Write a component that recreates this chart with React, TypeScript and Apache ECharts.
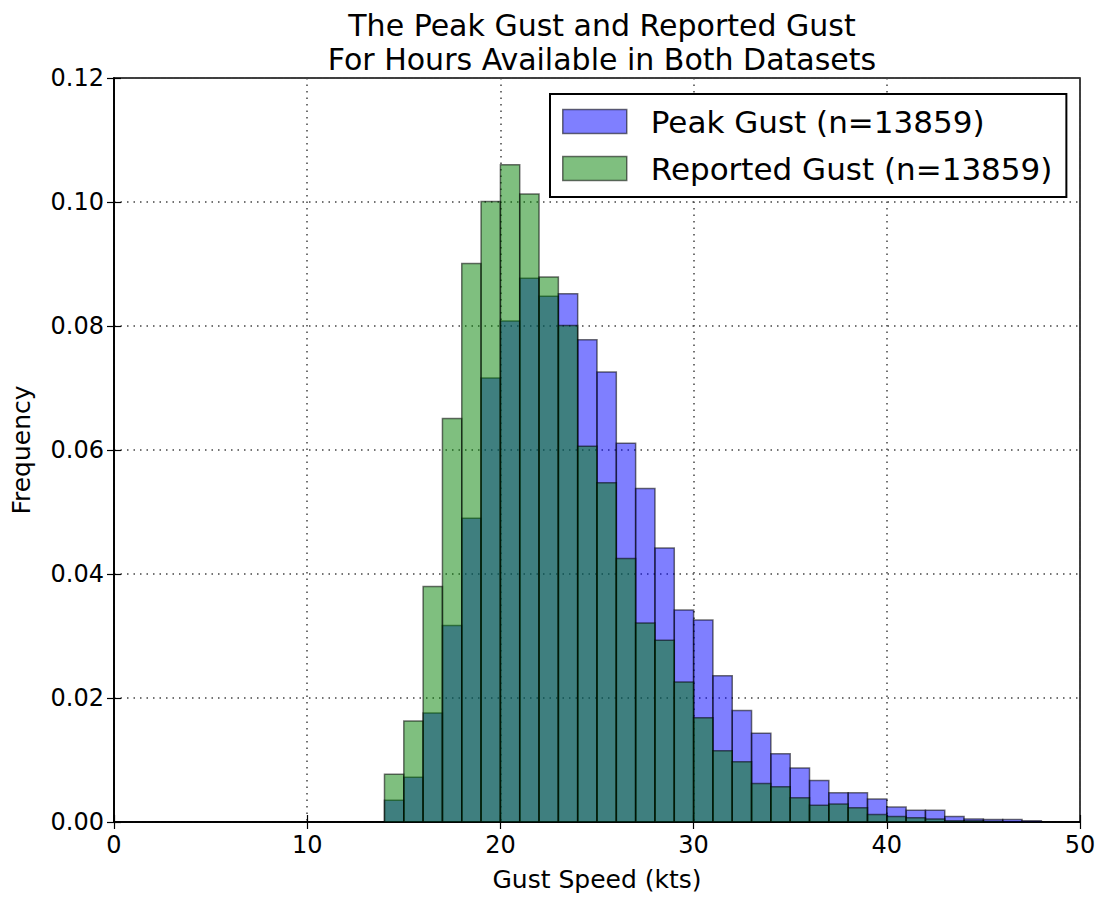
import React, { useEffect, useRef } from "react";
import * as echarts from "echarts";

const binStart = 2;
const peakGust = [
  0, 0, 0, 0, 0, 0, 0, 0, 0, 0, 0, 0,
  0.0035, 0.0072, 0.0176, 0.0317, 0.049, 0.0716, 0.0808, 0.0877, 0.0848, 0.0852,
  0.0778, 0.0726, 0.0611, 0.0538, 0.0442, 0.0342, 0.0326, 0.0236, 0.018, 0.0143,
  0.011, 0.0087, 0.0067, 0.0047, 0.0047, 0.0037, 0.0024, 0.0019, 0.0019, 0.0009,
  0.0005, 0.0004, 0.0004, 0.0002,
];
const reportedGust = [
  0, 0, 0, 0, 0, 0, 0, 0, 0, 0, 0, 0,
  0.0077, 0.0163, 0.038, 0.0651, 0.0901, 0.1001, 0.106, 0.1013, 0.0879, 0.0801,
  0.0606, 0.0547, 0.0425, 0.0321, 0.0293, 0.0226, 0.0168, 0.0115, 0.0097, 0.0062,
  0.0057, 0.0039, 0.0027, 0.0029, 0.0023, 0.0012, 0.0009, 0.0007, 0.0005, 0.0002,
  0.0002, 0.0001, 0, 0,
];
const xTicks = [0, 10, 20, 30, 40, 50];
const yTicks = [0, 0.02, 0.04, 0.06, 0.08, 0.1, 0.12];
const peakName = "Peak Gust (n=13859)";
const reportedName = "Reported Gust (n=13859)";
const titleText = "The Peak Gust and Reported Gust\nFor Hours Available in Both Datasets";

const FONT = "DejaVu Sans";
const BLUE = "rgba(0,0,255,0.5)";
const GREEN = "rgba(0,128,0,0.5)";
const EDGE = "rgba(0,0,0,0.55)";

function histSeries(name: string, values: number[], fill: string) {
  return {
    type: "custom",
    name,
    clip: true,
    itemStyle: { color: fill, borderColor: EDGE, borderWidth: 1.5 },
    encode: { x: 0, y: 1 },
    data: values.map((v, i) => [binStart + i, v]),
    renderItem: (params: any, api: any) => {
      const x0 = api.value(0);
      const y = api.value(1);
      const p0 = api.coord([x0, 0]);
      const p1 = api.coord([x0 + 1, y]);
      return {
        type: "rect",
        shape: { x: p0[0], y: p1[1], width: p1[0] - p0[0], height: p0[1] - p1[1] },
        style: { fill, stroke: EDGE, lineWidth: 1.5 },
      };
    },
  };
}

export default function App() {
  const ref = useRef<HTMLDivElement>(null);
  useEffect(() => {
    if (!ref.current) return;
    const chart = echarts.init(ref.current, undefined, { renderer: "svg" });
    const splitLine = { show: true, lineStyle: { type: [1.5, 5], color: "#444", width: 1.5 } };
    const axisLine = { show: true, lineStyle: { color: "#000", width: 1.5 } };
    const axisTick = { show: true, inside: true, length: 7, lineStyle: { color: "#000", width: 1.2 } };
    chart.setOption({
      animation: false,
      backgroundColor: "#fff",
      textStyle: { fontFamily: FONT },
      title: {
        text: titleText,
        left: 597,
        textAlign: "center",
        top: 3,
        textStyle: { fontFamily: FONT, fontSize: 30, fontWeight: "normal", color: "#000", lineHeight: 34 },
      },
      legend: {
        orient: "vertical",
        left: 550,
        top: 94,
        itemWidth: 64,
        itemHeight: 24,
        itemGap: 16,
        padding: [12, 14, 13, 12],
        borderColor: "#000",
        borderWidth: 2,
        backgroundColor: "#fff",
        icon: "rect",
        textStyle: { fontFamily: FONT, fontSize: 31, color: "#000", padding: [0, 0, 0, 19] },
        data: [
          { name: peakName, itemStyle: { color: BLUE, borderColor: EDGE, borderWidth: 1.5 } },
          { name: reportedName, itemStyle: { color: GREEN, borderColor: EDGE, borderWidth: 1.5 } },
        ],
      },
      grid: { left: 114, right: 20, top: 78, bottom: 71, show: true, borderColor: "#000", borderWidth: 1.5, backgroundColor: "transparent" },
      xAxis: [
        {
          type: "value",
          min: xTicks[0],
          max: xTicks[xTicks.length - 1],
          interval: 10,
          name: "Gust Speed (kts)",
          nameLocation: "middle",
          nameGap: 45,
          nameTextStyle: { fontFamily: FONT, fontSize: 25, color: "#000" },
          axisLine,
          axisTick,
          splitLine,
          axisLabel: { fontFamily: FONT, fontSize: 24, color: "#000", margin: 11 },
        },
        {
          type: "value",
          position: "top",
          min: xTicks[0],
          max: xTicks[xTicks.length - 1],
          interval: 10,
          axisLine,
          axisTick,
          splitLine: { show: false },
          axisLabel: { show: false },
        },
      ],
      yAxis: [
        {
          type: "value",
          min: yTicks[0],
          max: yTicks[yTicks.length - 1],
          interval: 0.02,
          name: "Frequency",
          nameLocation: "middle",
          nameGap: 80,
          nameTextStyle: { fontFamily: FONT, fontSize: 25, color: "#000" },
          axisLine,
          axisTick,
          splitLine,
          axisLabel: { fontFamily: FONT, fontSize: 24, color: "#000", margin: 10, formatter: (v: number) => v.toFixed(2) },
        },
        {
          type: "value",
          position: "right",
          min: yTicks[0],
          max: yTicks[yTicks.length - 1],
          interval: 0.02,
          axisLine,
          axisTick,
          splitLine: { show: false },
          axisLabel: { show: false },
        },
      ],
      series: [histSeries(peakName, peakGust, BLUE), histSeries(reportedName, reportedGust, GREEN)],
    });
    return () => chart.dispose();
  }, []);
  return <div ref={ref} style={{ position: "fixed", left: 0, top: 0, width: 1100, height: 897 }} />;
}
